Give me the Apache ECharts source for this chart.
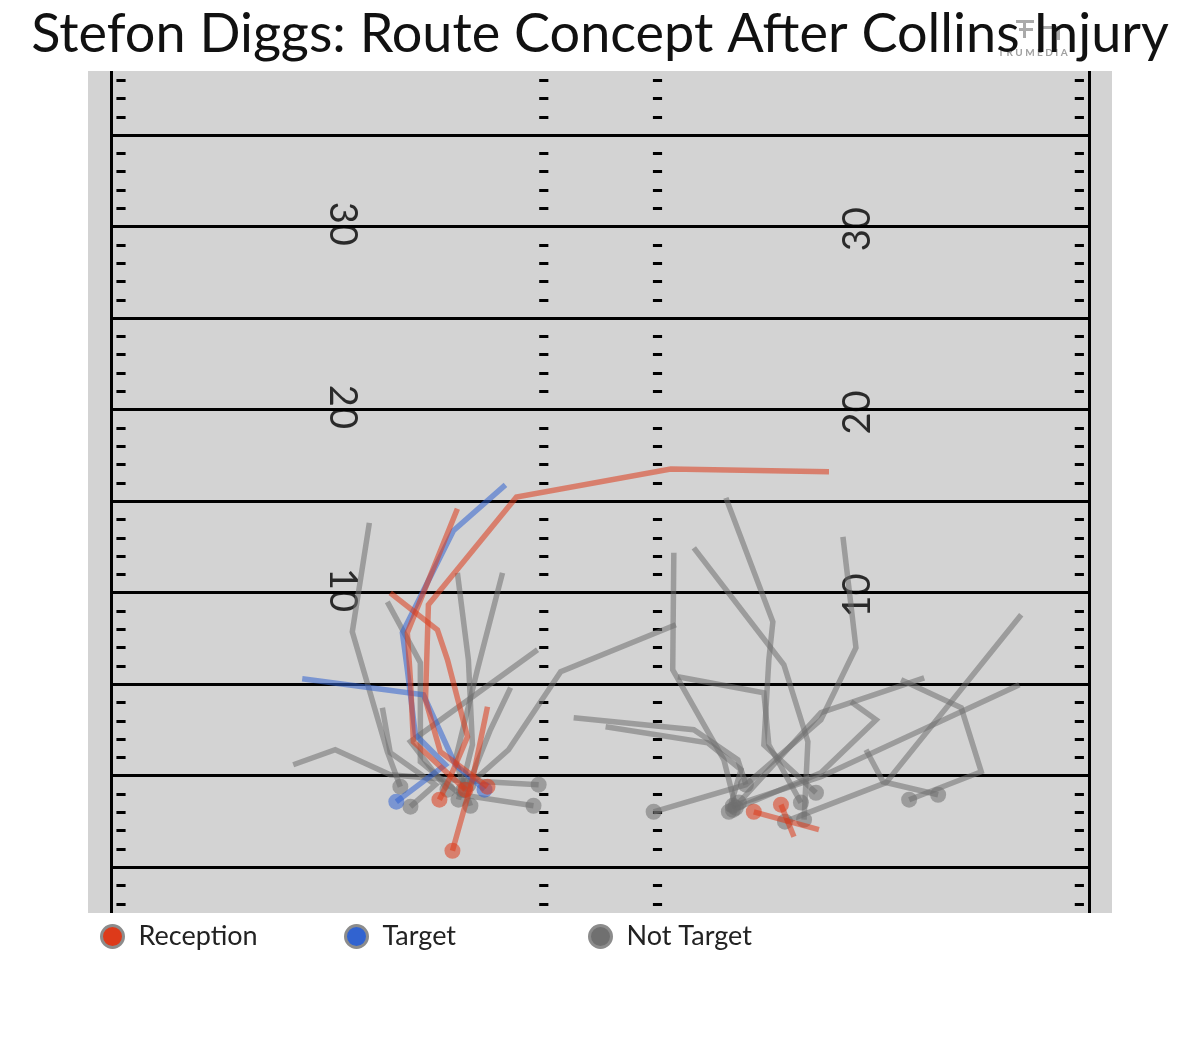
<!DOCTYPE html>
<html><head><meta charset="utf-8">
<script src="https://cdn.jsdelivr.net/npm/echarts@6/dist/echarts.min.js"></script>
<style>html,body{margin:0;padding:0;background:#fff}#c{width:1200px;height:1039px}</style>
</head><body><div id="c"></div>
<script>
// ---- field geometry (yards) ----
const yardLines = [-5, 0, 5, 10, 15, 20, 25, 30, 35];
const fieldNumbers = [10, 20, 30];
const numberX = [12.6, 40.7];
const sidelines = [0, 53.33];
const hashCols = [[0.3, 0.8], [23.35, 23.85], [29.55, 30.05], [52.55, 53.05]];
const yMin = -7.5, yMax = 38.5;

// ---- routes (x yards across, y yards past LOS); first point = start ----
const receptionRoutes = [
  [[20.53,-0.60],[17.96,1.31],[17.15,4.15],[17.31,9.34],[22.11,15.23],[30.52,16.76],[39.15,16.60]],
  [[19.33,-0.76],[16.49,1.86],[16.33,5.24],[16.16,7.81],[18.89,14.58]],
  [[17.91,-1.31],[18.51,-0.05],[19.44,2.13],[18.35,6.33],[17.80,7.97],[15.23,9.99]],
  [[18.62,-4.10],[19.71,-0.22],[20.53,3.77]],
  [[35.05,-1.97],[38.60,-2.95]],
  [[36.53,-1.58],[37.24,-3.33]]
];
const targetRoutes = [
  [[15.56,-1.42],[18.24,0.60],[16.60,2.24],[16.16,5.79],[15.89,7.81],[18.67,13.38],[21.51,15.89]],
  [[20.37,-0.76],[18.78,0.60],[17.04,4.42],[10.43,5.30]]
];
const notTargetRoutes = [
  [[15.78,-0.60],[15.07,1.31],[13.16,7.86],[14.09,13.81]],
  [[16.33,-1.69],[17.69,-0.49],[15.23,1.26],[14.80,3.71]],
  [[23.32,-0.49],[18.51,-0.22],[15.23,0.05],[12.23,1.42],[9.94,0.60]],
  [[23.04,-1.64],[19.06,-1.04],[16.87,0.76],[16.87,6.17],[15.07,9.50]],
  [[18.95,-1.31],[19.71,1.69],[19.49,6.33],[18.89,11.08]],
  [[19.60,-1.64],[18.78,0.87],[19.98,5.79],[21.35,11.08]],
  [[18.35,-0.76],[16.33,1.86],[23.26,6.88]],
  [[19.22,-0.76],[21.68,1.42],[24.52,5.68],[30.80,8.25]],
  [[19.49,-0.49],[20.69,2.51],[21.79,4.81]],
  [[33.91,-1.86],[38.71,0.16],[41.72,3.06],[40.35,4.04]],
  [[29.59,-1.97],[34.62,-0.49],[38.71,3.06],[40.62,6.99],[39.91,13.05]],
  [[36.75,-2.51],[42.26,-0.38],[49.63,8.79]],
  [[33.91,-1.64],[38.71,-0.05],[49.53,4.97]],
  [[34.24,-1.47],[38.71,3.44],[44.34,5.35]],
  [[43.52,-1.31],[47.45,0.22],[46.36,3.71],[43.08,5.24]],
  [[45.10,-1.04],[42.10,-0.33],[41.17,1.42]],
  [[38.44,-0.93],[35.60,1.69],[35.87,6.33],[36.09,8.41],[33.53,15.18]],
  [[34.07,-1.75],[33.42,0.87],[30.63,5.79],[30.69,12.18]],
  [[37.62,-1.47],[35.87,1.69],[35.60,4.53],[30.91,5.41]],
  [[37.79,-2.40],[38.00,1.86],[36.69,6.06],[31.78,12.45]],
  [[34.62,-0.49],[34.18,0.87],[31.78,2.51],[25.23,3.17]],
  [[33.69,-1.97],[34.35,0.33],[32.54,1.80],[26.97,2.68]]
];

const categories = ['Reception', 'Target', 'Not Target'];
const catColors = ['#dd3a1a', '#3163d0', '#707070'];

// ---- build field marking segments from the arrays ----
const lineSegs = [];
yardLines.forEach(y => lineSegs.push({coords: [[sidelines[0], y], [sidelines[1], y]]}));
sidelines.forEach(x => lineSegs.push({coords: [[x, yMin], [x, yMax]]}));
const tickSegs = [];
for (let y = Math.ceil(yMin); y <= Math.floor(yMax); y++) {
  if (y % 5 === 0) continue;
  hashCols.forEach(h => tickSegs.push({coords: [[h[0], y], [h[1], y]]}));
}
const numLeft = fieldNumbers.map(n => [numberX[0], n + 0.15, n]);
const numRight = fieldNumbers.map(n => [numberX[1], n - 0.15, n]);

function routeSeries(name, routes, color, z) {
  return [
    {type: 'lines', name, coordinateSystem: 'cartesian2d', polyline: true, silent: true, z,
     data: routes.map(r => ({coords: r})),
     lineStyle: {color, width: 5.5, opacity: 0.55}},
    {type: 'scatter', name, silent: true, z: z + 0.5, symbol: 'circle', symbolSize: 16,
     data: routes.map(r => r[0]),
     itemStyle: {color, opacity: 0.55}}
  ];
}

const legendBase = (name, color, left) => ({
  left, top: 923, padding: 0, itemWidth: 22, itemHeight: 22, itemGap: 0, selectedMode: false,
  data: [{name, icon: 'circle', itemStyle: {color, borderColor: '#8c8c8c', borderWidth: 3}}],
  textStyle: {fontFamily: 'Lato', fontSize: 27, color: '#222', padding: [0, 0, 0, 10]}
});

const chart = echarts.init(document.getElementById('c'), null, {renderer: 'canvas'});
chart.setOption({
  animation: false,
  backgroundColor: '#ffffff',
  title: {
    text: 'Stefon Diggs: Route Concept After Collins Injury',
    left: 'center', top: 3, z: 10,
    textStyle: {fontFamily: 'Lato', fontSize: 54, fontWeight: 'normal', color: '#111'}
  },
  graphic: [
    {type: 'text', left: 998, top: 48, z: 1,
     style: {text: 'T R U M E D I A', fontFamily: 'Lato', fontSize: 10, fontWeight: 'bold', fill: '#a0a0a0'}},
    {type: 'group', left: 1016, top: 20, z: 1, children: [
      {type: 'rect', shape: {x: 0, y: 0, width: 18, height: 3}, style: {fill: '#aaa'}},
      {type: 'rect', shape: {x: 3, y: 8, width: 14, height: 3}, style: {fill: '#aaa'}},
      {type: 'rect', shape: {x: 7, y: 0, width: 3, height: 18}, style: {fill: '#aaa'}},
      {type: 'rect', shape: {x: 24, y: 6, width: 20, height: 3}, style: {fill: '#aaa'}},
      {type: 'rect', shape: {x: 24, y: 6, width: 3, height: 14}, style: {fill: '#aaa'}},
      {type: 'rect', shape: {x: 41, y: 6, width: 3, height: 14}, style: {fill: '#aaa'}}
    ]}
  ],
  grid: {left: 88, right: 88, top: 71, bottom: 126, show: true, backgroundColor: '#d3d3d3', borderWidth: 0},
  xAxis: {type: 'value', min: -1.25, max: 54.58, show: false},
  yAxis: {type: 'value', min: yMin, max: yMax, show: false},
  legend: [
    legendBase(categories[0], catColors[0], 100),
    legendBase(categories[1], catColors[1], 344),
    legendBase(categories[2], catColors[2], 588)
  ],
  series: [
    {type: 'lines', coordinateSystem: 'cartesian2d', silent: true, z: 1,
     data: lineSegs, lineStyle: {color: '#000', width: 3, opacity: 1}},
    {type: 'lines', coordinateSystem: 'cartesian2d', silent: true, z: 1,
     data: tickSegs, lineStyle: {color: '#000', width: 3, opacity: 1}},
    {type: 'scatter', silent: true, z: 1, symbolSize: 0, data: numLeft,
     label: {show: true, position: 'inside', rotate: -90, formatter: p => p.value[2],
             fontFamily: 'Lato', fontSize: 38, color: '#000'}},
    {type: 'scatter', silent: true, z: 1, symbolSize: 0, data: numRight,
     label: {show: true, position: 'inside', rotate: 90, formatter: p => p.value[2],
             fontFamily: 'Lato', fontSize: 38, color: '#000'}},
    ...routeSeries('Not Target', notTargetRoutes, catColors[2], 3),
    ...routeSeries('Target', targetRoutes, catColors[1], 5),
    ...routeSeries('Reception', receptionRoutes, catColors[0], 7)
  ]
});
</script></body></html>
